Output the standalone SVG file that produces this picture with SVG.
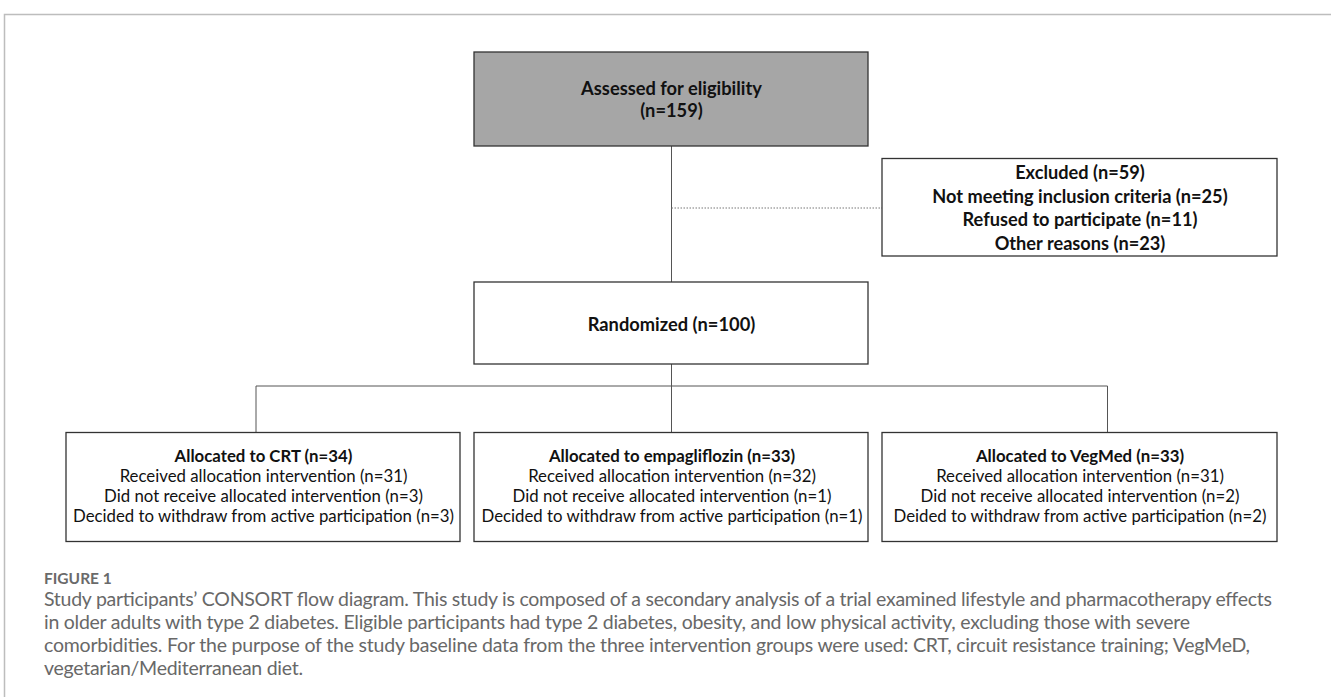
<svg xmlns="http://www.w3.org/2000/svg" width="1331" height="697" viewBox="0 0 1331 697">
<style>
.box{fill:#fff;stroke:#333;stroke-width:1.3}
.grey{fill:#a6a6a6}
.t{font-family:Lato,"Liberation Sans",sans-serif;fill:#111;text-anchor:middle}
.b{font-weight:bold}
.big{font-size:18.3px}
.mid{font-size:18.2px}
.sm{font-size:16.8px}
.conn{stroke:#555;stroke-width:1;fill:none}
.dot{stroke:#777;stroke-width:1;stroke-dasharray:1.5 1.5;fill:none}
.cap{font-family:Lato,"Liberation Sans",sans-serif;fill:#686868;font-size:19.5px}
.frame{stroke:#bdbdbd;stroke-width:1.5;fill:none}
</style>
<rect width="1331" height="697" fill="#fff"/>
<path class="frame" d="M4.5 697 V14.5 H1331"/>
<g id="connectors">
<path class="conn" d="M671.5 146 V282 M671.5 364 V432 M256 386 H1107.5 M256 386 V432 M1107.5 386 V432"/>
<path class="dot" d="M671.5 208 H882"/>
</g>
<g id="assessed">
<rect class="box grey" x="474" y="52" width="394" height="94"/>
<text class="t b big" x="671.5" y="94.5">Assessed for eligibility</text>
<text class="t b big" x="671.5" y="116.5">(n=159)</text>
</g>
<g id="excluded">
<rect class="box" x="882" y="158.5" width="395" height="97.5"/>
<text class="t b mid" x="1080" y="178.5">Excluded (n=59)</text>
<text class="t b mid" x="1080" y="202.5">Not meeting inclusion criteria (n=25)</text>
<text class="t b mid" x="1080" y="226">Refused to participate (n=11)</text>
<text class="t b mid" x="1080" y="250">Other reasons (n=23)</text>
</g>
<g id="randomized">
<rect class="box" x="474" y="282" width="394" height="82"/>
<text class="t b big" x="671.5" y="330.5">Randomized (n=100)</text>
</g>
<g id="crt">
<rect class="box" x="66" y="432.5" width="394" height="109"/>
<text class="t b sm" x="263.5" y="462">Allocated to CRT (n=34)</text>
<text class="t sm" x="263.5" y="482">Received allocation intervention (n=31)</text>
<text class="t sm" x="263.5" y="502">Did not receive allocated intervention (n=3)</text>
<text class="t sm" x="263.5" y="522">Decided to withdraw from active participation (n=3)</text>
</g>
<g id="empagliflozin">
<rect class="box" x="474" y="432.5" width="394" height="109"/>
<text class="t b sm" x="672" y="462">Allocated to empagliflozin (n=33)</text>
<text class="t sm" x="672" y="482">Received allocation intervention (n=32)</text>
<text class="t sm" x="672" y="502">Did not receive allocated intervention (n=1)</text>
<text class="t sm" x="672" y="522">Decided to withdraw from active participation (n=1)</text>
</g>
<g id="vegmed">
<rect class="box" x="882" y="432.5" width="395" height="109"/>
<text class="t b sm" x="1080" y="462">Allocated to VegMed (n=33)</text>
<text class="t sm" x="1080" y="482">Received allocation intervention (n=31)</text>
<text class="t sm" x="1080" y="502">Did not receive allocated intervention (n=2)</text>
<text class="t sm" x="1080" y="522">Deided to withdraw from active participation (n=2)</text>
</g>
<g id="caption">
<text class="cap" x="44" y="584" style="font-weight:bold;font-size:15.5px;fill:#6a6a6a">FIGURE 1</text>
<text class="cap" x="44" y="606" textLength="1228">Study participants’ CONSORT flow diagram. This study is composed of a secondary analysis of a trial examined lifestyle and pharmacotherapy effects</text>
<text class="cap" x="44" y="629" textLength="1146">in older adults with type 2 diabetes. Eligible participants had type 2 diabetes, obesity, and low physical activity, excluding those with severe</text>
<text class="cap" x="44" y="652" textLength="1206">comorbidities. For the purpose of the study baseline data from the three intervention groups were used: CRT, circuit resistance training; VegMeD,</text>
<text class="cap" x="44" y="675" textLength="259">vegetarian/Mediterranean diet.</text>
</g>
</svg>
